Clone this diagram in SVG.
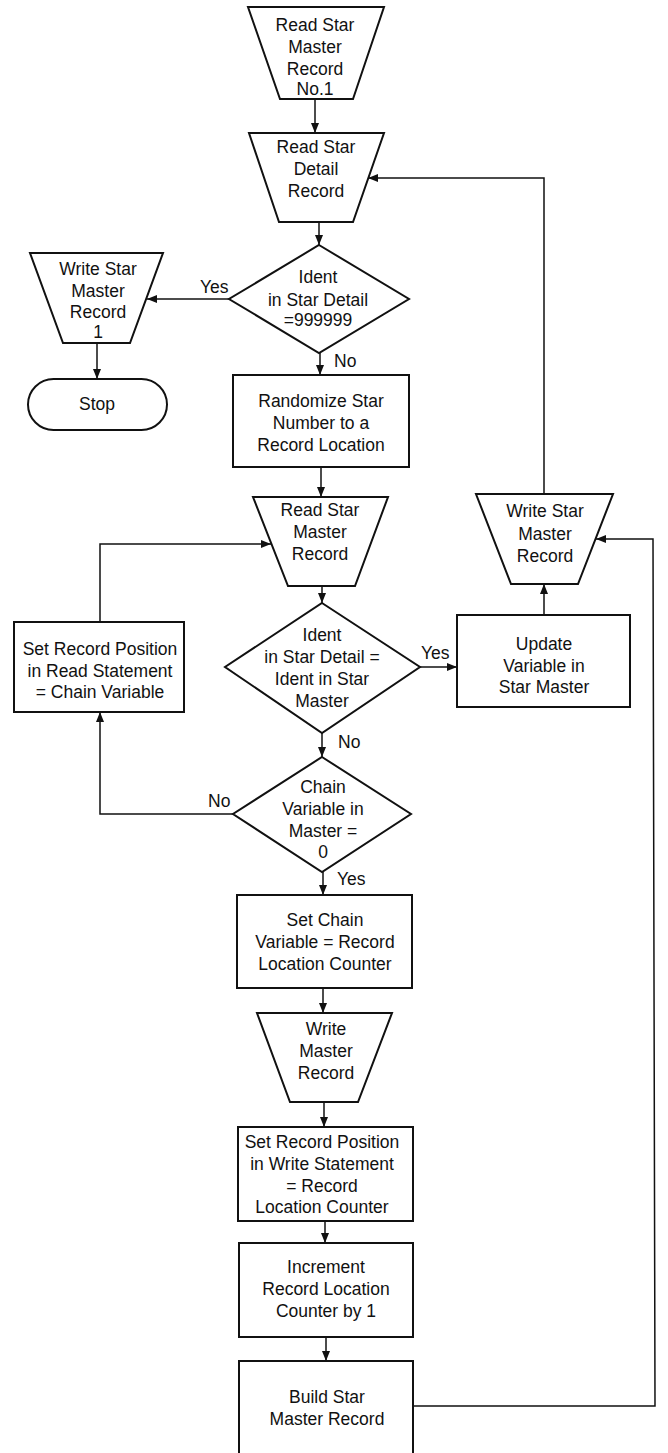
<svg xmlns="http://www.w3.org/2000/svg" width="668" height="1453" viewBox="0 0 668 1453">
<style>
.s{fill:#fff;stroke:#111;stroke-width:2;stroke-linejoin:miter}
.c{fill:none;stroke:#111;stroke-width:1.5}
text{font-family:"Liberation Sans",Arial,sans-serif;font-size:17.5px;fill:#111;text-anchor:middle}
.l{text-anchor:start}
</style>
<defs>
<marker id="a" markerUnits="userSpaceOnUse" markerWidth="10" markerHeight="8" refX="10" refY="4" orient="auto">
<path d="M0,0 L10,4 L0,8 Z" fill="#111"/>
</marker>
</defs>
<rect width="668" height="1453" fill="#fff"/>
<g id="connectors">
<line class="c" x1="315" y1="99" x2="315" y2="133" marker-end="url(#a)"/>
<line class="c" x1="319" y1="222" x2="319" y2="245" marker-end="url(#a)"/>
<line class="c" x1="229" y1="299" x2="147" y2="299" marker-end="url(#a)"/>
<line class="c" x1="97" y1="343" x2="97" y2="379" marker-end="url(#a)"/>
<line class="c" x1="320" y1="353" x2="320" y2="375" marker-end="url(#a)"/>
<line class="c" x1="321" y1="467" x2="321" y2="497" marker-end="url(#a)"/>
<line class="c" x1="322" y1="586" x2="322" y2="603" marker-end="url(#a)"/>
<line class="c" x1="420" y1="667" x2="457" y2="667" marker-end="url(#a)"/>
<line class="c" x1="544" y1="615" x2="544" y2="584" marker-end="url(#a)"/>
<polyline class="c" points="544,494 544,178 368,178" marker-end="url(#a)"/>
<line class="c" x1="322" y1="733" x2="322" y2="757" marker-end="url(#a)"/>
<polyline class="c" points="233,814 100,814 100,712" marker-end="url(#a)"/>
<polyline class="c" points="100,622 100,544 271,544" marker-end="url(#a)"/>
<line class="c" x1="323" y1="872" x2="323" y2="895" marker-end="url(#a)"/>
<line class="c" x1="323" y1="988" x2="323" y2="1013" marker-end="url(#a)"/>
<line class="c" x1="324" y1="1102" x2="324" y2="1127" marker-end="url(#a)"/>
<line class="c" x1="325" y1="1221" x2="325" y2="1243" marker-end="url(#a)"/>
<line class="c" x1="326" y1="1337" x2="326" y2="1361" marker-end="url(#a)"/>
<polyline class="c" points="413,1406 655,1406 653,539 596,539" marker-end="url(#a)"/>
<text class="l" x="200" y="293">Yes</text>
<text class="l" x="334" y="367">No</text>
<text class="l" x="421" y="659">Yes</text>
<text class="l" x="338" y="748">No</text>
<text class="l" x="208" y="807">No</text>
<text class="l" x="337" y="885">Yes</text>
</g>
<g id="readMaster1">
<polygon class="s" points="248,7 384,7 353,99 280,99"/>
<text x="315" y="31">Read Star</text>
<text x="315" y="53">Master</text>
<text x="315" y="75">Record</text>
<text x="315" y="95">No.1</text>
</g>
<g id="readDetail">
<polygon class="s" points="249,133 384,133 353,222 279,222"/>
<text x="316" y="153">Read Star</text>
<text x="316" y="175">Detail</text>
<text x="316" y="197">Record</text>
</g>
<g id="decEnd">
<polygon class="s" points="319,245 409,299 319,353 229,299"/>
<text x="318" y="283">Ident</text>
<text x="318" y="306">in Star Detail</text>
<text x="318" y="326">=999999</text>
</g>
<g id="writeMaster1">
<polygon class="s" points="30,253 163,253 130,343 63,343"/>
<text x="98" y="275">Write Star</text>
<text x="98" y="297">Master</text>
<text x="98" y="318">Record</text>
<text x="98" y="338">1</text>
</g>
<g id="stop">
<rect class="s" x="28" y="379" width="139" height="51" rx="25.5"/>
<text x="97" y="410">Stop</text>
</g>
<g id="randomize">
<rect class="s" x="233" y="375" width="176" height="92"/>
<text x="321" y="407">Randomize Star</text>
<text x="321" y="429">Number to a</text>
<text x="321" y="451">Record Location</text>
</g>
<g id="readMaster">
<polygon class="s" points="253,497 388,497 355,586 288,586"/>
<text x="320" y="516">Read Star</text>
<text x="320" y="538">Master</text>
<text x="320" y="560">Record</text>
</g>
<g id="setReadPos">
<rect class="s" x="14" y="622" width="170" height="90"/>
<text x="100" y="655">Set Record Position</text>
<text x="100" y="677">in Read Statement</text>
<text x="100" y="698">= Chain Variable</text>
</g>
<g id="decIdent">
<polygon class="s" points="322,603 420,667 322,733 225,667"/>
<text x="322" y="641">Ident</text>
<text x="322" y="663">in Star Detail =</text>
<text x="322" y="685">Ident in Star</text>
<text x="322" y="707">Master</text>
</g>
<g id="writeMaster">
<polygon class="s" points="476,494 613,494 578,584 511,584"/>
<text x="545" y="517">Write Star</text>
<text x="545" y="540">Master</text>
<text x="545" y="562">Record</text>
</g>
<g id="update">
<rect class="s" x="457" y="615" width="173" height="92"/>
<text x="544" y="650">Update</text>
<text x="544" y="672">Variable in</text>
<text x="544" y="693">Star Master</text>
</g>
<g id="decChain">
<polygon class="s" points="322,757 411,814 322,872 233,814"/>
<text x="323" y="793">Chain</text>
<text x="323" y="815">Variable in</text>
<text x="323" y="837">Master =</text>
<text x="323" y="858">0</text>
</g>
<g id="setChain">
<rect class="s" x="237" y="895" width="175" height="93"/>
<text x="325" y="926">Set Chain</text>
<text x="325" y="948">Variable = Record</text>
<text x="325" y="970">Location Counter</text>
</g>
<g id="writeMasterRec">
<polygon class="s" points="257,1013 392,1013 358,1102 290,1102"/>
<text x="326" y="1035">Write</text>
<text x="326" y="1057">Master</text>
<text x="326" y="1079">Record</text>
</g>
<g id="setWritePos">
<rect class="s" x="238" y="1127" width="175" height="94"/>
<text x="322" y="1148">Set Record Position</text>
<text x="322" y="1170">in Write Statement</text>
<text x="322" y="1192">= Record</text>
<text x="322" y="1213">Location Counter</text>
</g>
<g id="increment">
<rect class="s" x="239" y="1243" width="174" height="94"/>
<text x="326" y="1273">Increment</text>
<text x="326" y="1295">Record Location</text>
<text x="326" y="1317">Counter by 1</text>
</g>
<g id="build">
<rect class="s" x="239" y="1361" width="174" height="100"/>
<text x="327" y="1403">Build Star</text>
<text x="327" y="1425">Master Record</text>
</g>
</svg>
